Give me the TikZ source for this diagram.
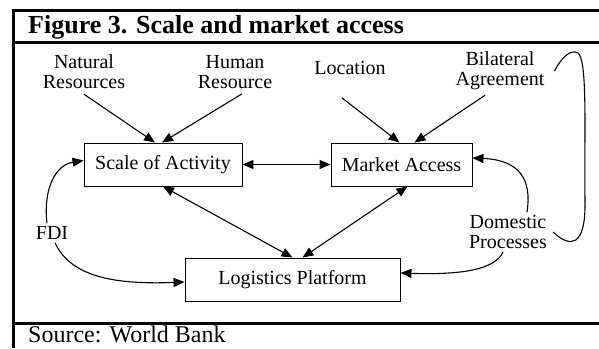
\documentclass[tikz,border=0pt]{standalone}
\usepackage{fontspec}
\setmainfont{Liberation Serif}
\usetikzlibrary{arrows.meta}

\begin{document}
\begin{tikzpicture}[
  x=1pt, y=-1pt,
  font=\fontsize{20}{20}\selectfont,
  box/.style={draw, line width=0.9pt, minimum height=43pt, inner sep=0pt},
  lbl/.style={align=center, inner sep=1pt},
  arr/.style={-{Triangle[length=11pt,width=9pt]}, line width=1.1pt},
  darr/.style={{Triangle[length=11pt,width=9pt]}-{Triangle[length=11pt,width=9pt]}, line width=1.1pt},
  link/.style={line width=1.1pt},
  rule/.style={line width=3pt},
]
\useasboundingbox (0,0) rectangle (599,348);

% ---------------- Frame ----------------
\draw[rule] (13,348) -- (13,10) -- (599,10);
\draw[rule] (13,42) -- (599,42);
\draw[rule] (13,323) -- (599,323);
\node[anchor=base west, inner sep=0pt, font=\fontsize{26}{26}\selectfont\bfseries] (title) at (28,33) {Figure 3. Scale and market access};
\node[anchor=base west, inner sep=0pt, font=\fontsize{24}{24}\selectfont] (source) at (28,342) {Source: World Bank};

% ---------------- Boxes ----------------
\node[box, minimum width=158pt] (scale)  at (163,164.5)   {Scale of Activity};
\node[box, minimum width=141pt] (market) at (401.5,164.5) {Market Access};
\node[box, minimum width=215pt] (logis)  at (292.5,279.5) {Logistics Platform};

% ---------------- Factors ----------------
\node[lbl] (natural)   at (84,72)   {Natural\\Resources};
\node[lbl] (human)     at (235,72)  {Human\\Resource};
\node[lbl] (location)  at (350,68)  {Location};
\node[lbl] (bilateral) at (500,71)  {Bilateral\\Agreement};
\node[lbl] (fdi)       at (52,233)  {FDI};
\node[lbl] (domestic)  at (508,232) {Domestic\\Processes};

\draw[arr] ([yshift=-4pt]natural.south)           -- ([xshift=-8pt]scale.north);
\draw[arr] ([xshift=7pt,yshift=-4pt]human.south)  -- ([xshift=-1pt]scale.north);
\draw[arr] ([xshift=-8pt,yshift=-22pt]location.south) -- ([xshift=-2pt]market.north);
\draw[arr] ([xshift=-15pt,yshift=-4pt]bilateral.south) -- ([xshift=13pt]market.north);

% ---------------- Links between boxes ----------------
\draw[darr] (scale.east)  -- (market.west);
\draw[darr] (scale.south) -- (logis.north);
\draw[darr] ([xshift=6pt]market.south) -- ([xshift=10pt]logis.north);

% ---------------- Curved links ----------------
\draw[arr] ([xshift=-5pt,yshift=2pt]fdi.north) .. controls (43,190) and (55,165) .. ([yshift=4pt]scale.west);
\draw[arr] ([xshift=3pt,yshift=-2pt]fdi.south) .. controls (70,275) and (110,285) .. ([yshift=-2.5pt]logis.west);
\draw[arr] ([xshift=19pt,yshift=2pt]domestic.north) .. controls (532,180) and (520,160) .. ([yshift=6.5pt]market.east);
\draw[arr] ([xshift=-5pt,yshift=-2pt]domestic.south) .. controls (495,270) and (460,275) .. ([yshift=6.5pt]logis.east);
\draw[link] ([xshift=5pt]domestic.east) .. controls (570,248) and (586,248) .. (585,200)
  .. controls (584,140) and (588,60) .. (578,53) .. controls (570,48) and (560,60) .. ([xshift=9pt]bilateral.east);

\end{tikzpicture}
\end{document}
